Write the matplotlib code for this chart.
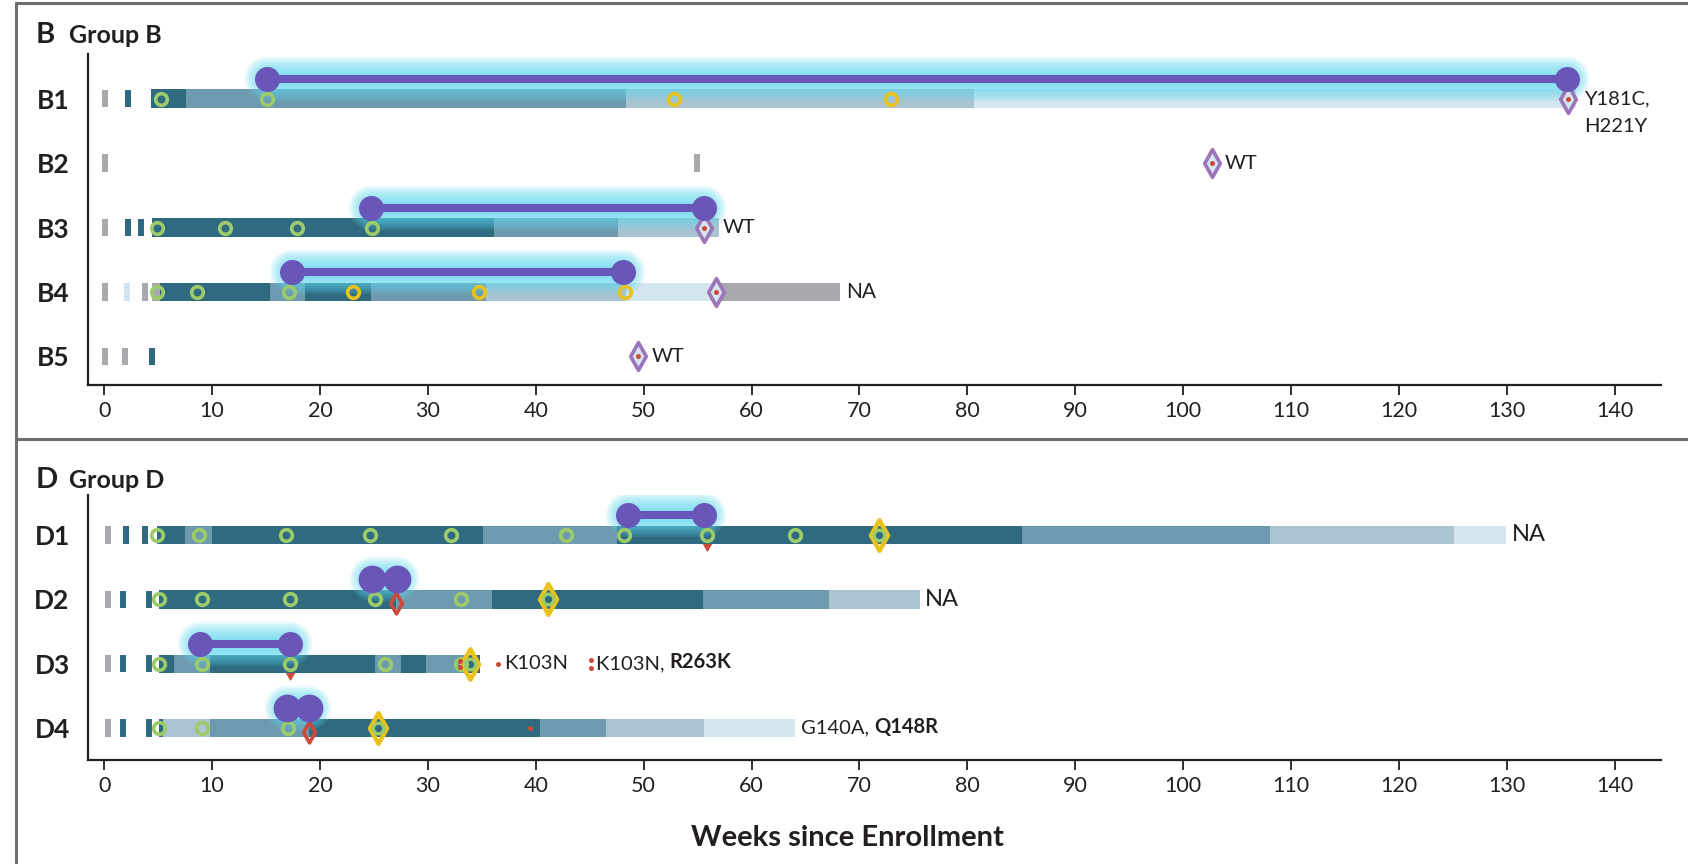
import matplotlib.pyplot as plt
from matplotlib.path import Path
from matplotlib.lines import Line2D

plt.rcParams['font.family'] = ['Lato', 'DejaVu Sans']

DARK = '#2f6a80'
MED = '#6d9aae'
LIGHT = '#aac4d1'
PALE = '#d3e5ef'
GRAY = '#a7a9ac'
GREEN = '#9ccb6a'
YELLOW = '#e9c21c'
PURPLE = '#6a55b8'
GLOW = '#5fd8ef'
RED = '#cc4a3a'
DPURP = '#9c74ba'
INK = '#231f20'
shade = {'d': DARK, 'm': MED, 'l': LIGHT, 'x': PALE, 'g': GRAY}

# ---- Group B ----
b_rows = ['B1', 'B2', 'B3', 'B4', 'B5']
b_ticks = [[(0.1, 'g'), (2.2, 'd')],
           [(0.1, 'g'), (54.9, 'g')],
           [(0.1, 'g'), (2.2, 'd'), (3.4, 'd')],
           [(0.1, 'g'), (2.1, 'x'), (3.8, 'g')],
           [(0.1, 'g'), (1.9, 'g'), (4.4, 'd')]]
b_segments = [
    [(4.3, 7.6, 'd'), (7.6, 48.4, 'm'), (48.4, 80.6, 'l'), (80.6, 136.4, 'x')],
    [],
    [(4.4, 36.1, 'd'), (36.1, 47.6, 'm'), (47.6, 57.0, 'l')],
    [(4.4, 5.2, 'g'), (5.2, 15.4, 'd'), (15.4, 18.6, 'm'), (18.6, 24.7, 'd'),
     (24.7, 35.4, 'm'), (35.4, 48.4, 'l'), (48.4, 56.7, 'x'), (56.7, 68.2, 'g')],
    [],
]
b_green = [[5.3, 15.1], [], [4.9, 11.2, 17.9, 24.8], [4.9, 8.6, 17.1], []]
b_yellow = [[52.8, 72.9], [], [], [23.1, 34.7, 48.3], []]
b_diamond = [135.7, 102.7, 55.6, 56.7, 49.5]
b_notes = ['Y181C,\nH221Y', 'WT', 'WT', 'NA', 'WT']
b_note_x = [137.2, 103.9, 57.3, 68.8, 50.7]
b_purple = [(15.1, 135.6), None, (24.7, 55.6), (17.4, 48.1), None]

# ---- Group D ----
d_rows = ['D1', 'D2', 'D3', 'D4']
d_ticks = [[(0.3, 'g'), (2.0, 'd'), (3.75, 'd')],
           [(0.3, 'g'), (1.75, 'd'), (4.1, 'd')],
           [(0.3, 'g'), (1.75, 'd'), (4.1, 'd')],
           [(0.3, 'g'), (1.75, 'd'), (4.1, 'd')]]
d_segments = [
    [(4.85, 7.5, 'd'), (7.5, 10.0, 'm'), (10.0, 35.1, 'd'), (35.1, 47.5, 'm'),
     (47.5, 85.1, 'd'), (85.1, 108.1, 'm'), (108.1, 125.1, 'l'), (125.1, 129.9, 'x')],
    [(5.1, 27.0, 'd'), (27.0, 35.9, 'm'), (35.9, 55.5, 'd'), (55.5, 67.2, 'm'),
     (67.2, 75.6, 'l')],
    [(5.1, 6.5, 'd'), (6.5, 9.8, 'm'), (9.8, 25.1, 'd'), (25.1, 27.5, 'm'),
     (27.5, 29.8, 'd'), (29.8, 33.4, 'm'), (33.4, 34.8, 'd')],
    [(5.1, 5.4, 'd'), (5.4, 9.8, 'l'), (9.8, 19.0, 'm'), (19.0, 40.4, 'd'),
     (40.4, 46.5, 'm'), (46.5, 55.6, 'l'), (55.6, 64.0, 'x')],
]
d_green = [[4.85, 8.8, 16.8, 24.6, 32.1, 42.8, 48.2, 55.9, 64.0],
           [5.1, 9.1, 17.2, 25.1, 33.1],
           [5.1, 9.1, 17.2, 26.0, 33.1],
           [5.1, 9.05, 17.0]]
d_yellow_diamond = [71.8, 41.1, 33.9, 25.4]
d_red_diamond = [55.9, 27.0, 17.2, 19.0]
d_red_front = [False, True, False, True]
d_red_dots = [[], [], [(33.0, 2)], [(39.5, 1)]]
d_purple = [(48.5, 55.6), (24.8, 27.1), (8.9, 17.2), (16.9, 19.0)]
d_purple_joined = [True, False, True, False]
d_notes = ['NA', 'NA', None, None]
d_note_x = [130.5, 76.1, None, None]

xticks = list(range(0, 141, 10))

diamond = Path([(0, 1), (0.56, 0), (0, -1), (-0.56, 0), (0, 1)],
               [Path.MOVETO, Path.LINETO, Path.LINETO, Path.LINETO, Path.CLOSEPOLY])

BAR_H = 0.285
P_OFF = 0.31


def draw_glow_line(ax, x0, x1, y):
    for lw in range(32, 6, -3):
        ax.plot([x0, x1], [y, y], color=GLOW, lw=lw, alpha=0.14,
                solid_capstyle='round', zorder=2)


def draw_rows(ax, ticks, segments, greens, i):
    y = i + 1
    for x, c in ticks[i]:
        ax.barh(y, 0.55, left=x - 0.27, height=BAR_H * 0.95, color=shade[c],
                zorder=1, linewidth=0)
    for x0, x1, c in segments[i]:
        ax.barh(y, x1 - x0, left=x0, height=BAR_H, color=shade[c],
                zorder=1, linewidth=0)
    ax.plot(greens[i], [y] * len(greens[i]), 'o', ms=8.4, mfc='none',
            mec=GREEN, mew=2.6, zorder=4, linestyle='none')


def style_axis(ax, labels, ylim):
    ax.set_xlim(-1.53, 144.3)
    ax.set_ylim(*ylim)
    ax.set_yticks(range(1, len(labels) + 1))
    ax.set_yticklabels(labels, fontsize=19, fontweight='bold', color=INK)
    ax.tick_params(axis='y', length=0, pad=13)
    ax.set_xticks(xticks)
    ax.tick_params(axis='x', labelsize=15.5, length=7, width=1.3, direction='out',
                   pad=4, colors=INK)
    for s in ['top', 'right']:
        ax.spines[s].set_visible(False)
    for s in ['left', 'bottom']:
        ax.spines[s].set_linewidth(1.6)
        ax.spines[s].set_color(INK)


fig = plt.figure(figsize=(16.88, 8.64), dpi=100)
axB = fig.add_axes([0.052, 0.554, 0.932, 0.384])
axD = fig.add_axes([0.052, 0.120, 0.932, 0.307])

# Group B
for i in range(len(b_rows)):
    y = i + 1
    draw_rows(axB, b_ticks, b_segments, b_green, i)
    axB.plot(b_yellow[i], [y] * len(b_yellow[i]), 'o', ms=8.4, mfc='none',
             mec=YELLOW, mew=2.6, zorder=4, linestyle='none')
    axB.plot(b_diamond[i], y, marker=diamond, ms=20, mfc=PALE, mec=DPURP,
             mew=2.6, zorder=5)
    axB.plot(b_diamond[i], y, 'o', ms=3.6, color=RED, mew=0, zorder=6)
    fs = 15 if b_notes[i] == 'NA' else 14.5
    for k, line in enumerate(b_notes[i].split('\n')):
        axB.text(b_note_x[i], y + 0.43 * k, line, fontsize=fs, va='center',
                 ha='left', color=INK)
    if b_purple[i]:
        x0, x1 = b_purple[i]
        yp = y - P_OFF
        draw_glow_line(axB, x0, x1, yp)
        axB.plot([x0, x1], [yp, yp], '-o', color=PURPLE, lw=5.8, ms=18,
                 mew=0, zorder=7)

style_axis(axB, b_rows, (5.45, 0.30))

# Group D
for i in range(len(d_rows)):
    y = i + 1
    draw_rows(axD, d_ticks, d_segments, d_green, i)
    if d_red_front[i]:
        axD.plot(d_red_diamond[i], y + 0.06, marker=diamond, ms=15, mfc='none',
                 mec=RED, mew=2.6, zorder=3)
    else:
        axD.plot(d_red_diamond[i], y + 0.08, marker=diamond, ms=15, mfc=RED,
                 mec=RED, mew=1, zorder=0.5)
    axD.plot(d_yellow_diamond[i], y, marker=diamond, ms=22, mfc='none',
             mec=YELLOW, mew=3.2, zorder=5)
    axD.plot(d_yellow_diamond[i], y, 'o', ms=7.6, mfc='none', mec=GREEN,
             mew=2.4, zorder=5)
    for x, n in d_red_dots[i]:
        ys = [y - 0.05, y + 0.05] if n == 2 else [y]
        axD.plot([x] * n, ys, 'o', ms=3.6, color=RED, mew=0, zorder=6,
                 linestyle='none')
    if d_notes[i]:
        axD.text(d_note_x[i], y, d_notes[i], fontsize=17, va='center',
                 ha='left', color=INK)
    x0, x1 = d_purple[i]
    yp = y - P_OFF
    draw_glow_line(axD, x0, x1, yp)
    if d_purple_joined[i]:
        axD.plot([x0, x1], [yp, yp], '-o', color=PURPLE, lw=5.8, ms=18,
                 mew=0, zorder=7)
    else:
        axD.plot([x0, x1], [yp, yp], 'o', color=PURPLE, ms=20, mew=0,
                 zorder=7, linestyle='none')

# D3 annotations
axD.plot(36.5, 3, 'o', ms=3.6, color=RED, mew=0, zorder=6)
axD.text(37.1, 3, 'K103N', fontsize=14.5, va='center', ha='left', color=INK)
axD.plot([45.1, 45.1], [2.94, 3.06], 'o', ms=3.6, color=RED, mew=0, zorder=6,
         linestyle='none')
t1 = axD.text(45.6, 3, 'K103N, ', fontsize=14.5, va='center', ha='left',
              color=INK)
axD.annotate('R263K', xy=(1, 0), xycoords=t1, va='bottom', ha='left',
             fontsize=14.5, fontweight='bold', color=INK)
# D4 annotation
t2 = axD.text(64.6, 4, 'G140A, ', fontsize=14.5, va='center', ha='left',
              color=INK)
axD.annotate('Q148R', xy=(1, 0), xycoords=t2, va='bottom', ha='left',
             fontsize=14.5, fontweight='bold', color=INK)

style_axis(axD, d_rows, (4.5, 0.38))
axD.set_xlabel('Weeks since Enrollment', fontsize=21, fontweight='bold',
               color=INK)
axD.xaxis.set_label_coords(0.4826, -0.245)

# panel titles
fig.text(0.021, 0.950, 'B', fontsize=21, fontweight='bold', va='baseline',
         color=INK)
fig.text(0.041, 0.950, 'Group B', fontsize=18, fontweight='bold',
         va='baseline', color=INK)
fig.text(0.021, 0.435, 'D', fontsize=21, fontweight='bold', va='baseline',
         color=INK)
fig.text(0.041, 0.435, 'Group D', fontsize=18, fontweight='bold',
         va='baseline', color=INK)

# frame lines
fc = '#6d6e71'
fig.add_artist(Line2D([0.0095, 1.0], [0.9965, 0.9965], color=fc, lw=2.2))
fig.add_artist(Line2D([0.0095, 0.0095], [0.0, 0.9965], color=fc, lw=2.2))
fig.add_artist(Line2D([0.0095, 1.0], [0.492, 0.492], color=fc, lw=2.2))

fig.savefig('out.png', dpi=100)
